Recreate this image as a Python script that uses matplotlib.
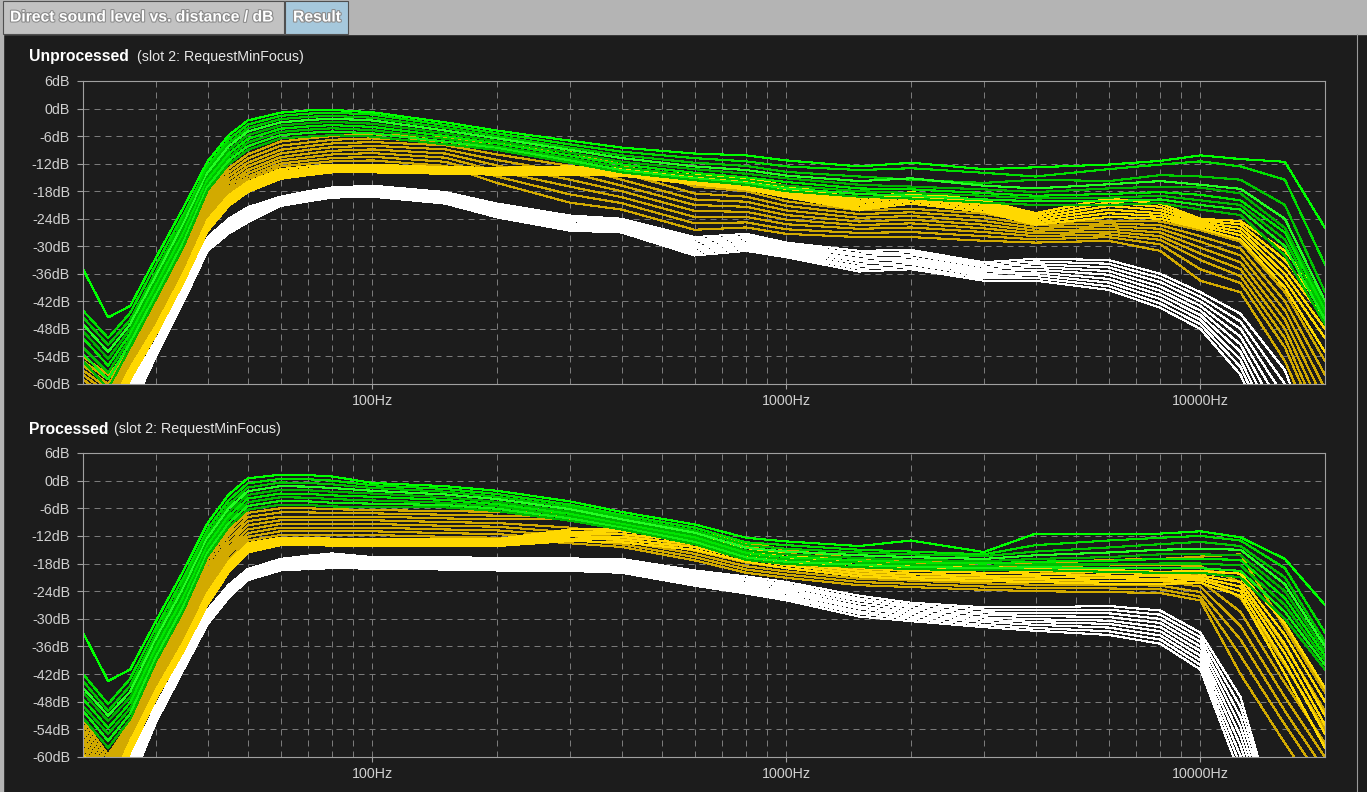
import matplotlib
matplotlib.use('Agg')
import matplotlib.pyplot as plt
from matplotlib.patches import Rectangle
from matplotlib.ticker import FixedLocator, NullFormatter
import matplotlib.patheffects as pe

plt.rcParams['font.family'] = ['Liberation Sans', 'DejaVu Sans']

# frequency points (Hz) shared by every response curve
freqs = [20, 23, 26, 30, 35, 40, 45, 50, 60, 70, 80, 100, 150, 200, 300, 400, 600, 800,
         1000, 1500, 2000, 3000, 4000, 6000, 8000, 10000, 12500, 16000, 20000]

# ---- unprocessed: levels in dB ----
unproc_green = [
    [-35, -45.5, -43, -32.5, -21.5, -11.5, -5.8, -2.6, -0.9, -0.4, -0.3, -0.8, -3.0, -4.8, -7.0, -8.5, -9.8, -10.2, -11.3, -12.6, -11.8, -13.2, -12.8, -12.2, -11.4, -10.2, -11.0, -11.6, -26.0],
    [-44, -50, -44.5, -34, -23, -12.5, -6.7, -3.5, -1.6, -1.1, -0.9, -1.3, -3.6, -5.4, -7.8, -9.4, -10.8, -11.5, -12.6, -13.4, -13.0, -14.0, -14.8, -13.2, -12.2, -11.5, -12.6, -15.5, -34.0],
    [-45.5, -51.5, -46, -35.5, -24, -13.3, -7.5, -4.3, -2.3, -1.8, -1.6, -2.0, -4.2, -6.0, -8.5, -10.2, -11.8, -12.5, -13.8, -14.8, -15.5, -16.2, -15.5, -15.8, -14.5, -14.8, -15.5, -21.0, -40.0],
    [-47, -53, -47, -36.5, -25, -14, -8.2, -5.0, -3.0, -2.5, -2.2, -2.6, -4.8, -6.5, -9.0, -10.8, -12.6, -13.4, -14.6, -15.8, -15.2, -16.8, -17.4, -16.5, -15.8, -16.6, -17.5, -24.0, -42.0],
    [-48.5, -54.5, -48, -37.5, -26, -14.8, -9.0, -5.8, -3.7, -3.2, -2.9, -3.3, -5.4, -7.1, -9.6, -11.6, -13.2, -14.2, -15.2, -16.6, -17.0, -17.6, -18.2, -17.4, -17.0, -17.2, -18.5, -26.0, -43.0],
    [-50, -56, -49, -38.5, -27, -15.5, -9.8, -6.6, -4.4, -3.9, -3.6, -4.0, -6.0, -7.6, -10.2, -12.2, -14.0, -15.0, -16.0, -17.4, -17.6, -18.4, -19.0, -18.6, -18.2, -18.8, -20.0, -27.0, -44.0],
    [-52, -57.5, -50, -39.5, -28, -16.3, -10.6, -7.4, -5.1, -4.6, -4.3, -4.7, -6.6, -8.2, -10.8, -12.8, -14.6, -15.6, -16.8, -18.0, -18.4, -19.0, -19.6, -19.4, -19.0, -20.0, -21.0, -28.5, -45.0],
    [-53.5, -59, -51, -40.5, -29, -17, -11.3, -8.2, -5.8, -5.3, -5.0, -5.4, -7.2, -8.6, -11.3, -13.4, -15.2, -16.2, -17.4, -18.6, -19.0, -19.8, -20.2, -20.2, -19.8, -21.0, -22.0, -30.0, -46.0],
    [-55, -61, -52, -41.5, -30, -17.8, -12.1, -9.0, -6.5, -6.1, -5.8, -6.1, -7.8, -9.0, -11.8, -13.9, -15.6, -16.6, -18.0, -19.2, -19.6, -20.5, -21.0, -21.0, -20.6, -22.0, -23.2, -32.0, -47.0],
]
unproc_gold_bright = [
    [-60.5, -66, -56.5, -47.3, -35.8, -24.2, -18.9, -16.0, -13.2, -12.6, -12.2, -12.2, -12.8, -12.9, -12.6, -13.0, -14.5, -15.1, -16.8, -19.6, -18.2, -20.0, -22.8, -19.6, -20.7, -24.0, -24.5, -31, -42],
    [-61, -67, -57, -47.7, -36.2, -24.7, -19.4, -16.5, -13.7, -13.1, -12.6, -12.6, -13.1, -13.2, -12.9, -13.3, -14.9, -15.6, -17.3, -20.1, -18.7, -20.5, -23.3, -20.4, -21.4, -24.4, -25.2, -33, -44],
    [-62, -68, -57.5, -48.1, -36.6, -25.2, -19.9, -17.0, -14.1, -13.5, -13.0, -13.0, -13.4, -13.5, -13.3, -13.6, -15.3, -16.1, -17.8, -20.6, -19.2, -21.0, -23.8, -21.2, -22.1, -24.8, -26.0, -34.5, -46],
    [-63, -69, -58, -48.5, -37.0, -25.7, -20.3, -17.4, -14.5, -13.9, -13.3, -13.3, -13.6, -13.8, -13.7, -14.0, -15.7, -16.6, -18.3, -21.1, -19.7, -21.5, -24.3, -22.0, -22.8, -25.2, -26.8, -36, -48],
    [-64, -70, -58.5, -48.9, -37.4, -26.2, -20.8, -17.8, -14.9, -14.2, -13.6, -13.6, -13.9, -14.1, -14.1, -14.3, -16.1, -17.1, -18.8, -21.6, -20.2, -22.0, -24.8, -22.8, -23.4, -25.6, -27.6, -37.5, -50],
    [-65, -71, -59, -49.3, -37.8, -26.7, -21.2, -18.2, -15.3, -14.5, -13.9, -13.9, -14.2, -14.4, -14.5, -14.6, -16.5, -17.6, -19.3, -22.1, -20.7, -22.5, -25.3, -23.6, -24.0, -26.1, -28.5, -39, -53],
]
unproc_gold_dark = [
    [-54, -58, -52.5, -42.3, -30.8, -18.6, -13.0, -10.0, -7.2, -6.5, -6.0, -5.6, -6.3, -7.6, -9.5, -12.2, -17.0, -18.0, -20.2, -22.2, -21.8, -22.9, -24.8, -24.4, -24.6, -26.5, -29.0, -40, -55],
    [-55, -59, -53, -43.0, -31.5, -19.4, -13.9, -10.9, -8.1, -7.4, -6.8, -6.5, -7.2, -8.8, -11.0, -14.0, -18.5, -19.2, -21.2, -23.0, -22.6, -23.7, -25.4, -25.0, -25.4, -27.8, -30.5, -42, -58],
    [-56, -60, -53.5, -43.7, -32.2, -20.2, -14.7, -11.8, -9.0, -8.2, -7.6, -7.3, -8.0, -10.0, -12.5, -15.5, -19.8, -20.3, -22.2, -23.8, -23.4, -24.5, -26.0, -25.6, -26.2, -29.0, -32.0, -44, -61],
    [-57, -61, -54, -44.4, -32.9, -21.0, -15.5, -12.6, -9.8, -9.0, -8.4, -8.1, -8.9, -11.2, -14.0, -16.8, -21.0, -21.4, -23.2, -24.6, -24.2, -25.3, -26.6, -26.2, -27.0, -30.3, -33.5, -46, -64],
    [-58, -62, -54.5, -45.0, -33.5, -21.7, -16.3, -13.4, -10.6, -9.8, -9.2, -8.9, -9.8, -12.4, -15.5, -18.0, -22.3, -22.5, -24.2, -25.4, -25.0, -26.1, -27.2, -26.8, -27.8, -31.6, -35.0, -48, -67],
    [-59, -63, -55, -45.6, -34.1, -22.4, -17.0, -14.1, -11.3, -10.6, -10.0, -9.7, -10.7, -13.6, -17.0, -19.3, -23.6, -23.6, -25.2, -26.2, -25.9, -26.9, -27.8, -27.4, -28.6, -33.0, -36.5, -50, -70],
    [-60, -64, -55.5, -46.2, -34.7, -23.0, -17.7, -14.8, -12.0, -11.3, -10.8, -10.5, -11.6, -14.8, -18.7, -20.6, -25.0, -24.8, -26.3, -27.1, -26.9, -27.8, -28.5, -28.0, -29.6, -35.0, -38.0, -52, -72],
    [-61, -65, -56, -46.8, -35.3, -23.6, -18.3, -15.4, -12.6, -12.0, -11.5, -11.3, -12.5, -16.2, -20.5, -22.0, -26.4, -25.9, -27.3, -28.0, -28.0, -28.8, -29.2, -28.8, -31.0, -37.5, -40.0, -55, -75],
]
unproc_white = [
    [-80, -70, -60, -50.5, -38.8, -28, -24.0, -21.5, -19.2, -18.0, -17.2, -16.8, -18.2, -20.7, -23.3, -24.0, -28.0, -27.3, -29.2, -31.0, -30.8, -33.5, -32.7, -33.0, -36.0, -40.0, -44.7, -57, -80],
    [-81, -70.9, -60.8, -50.9, -39.2, -28.4, -24.4, -21.9, -19.4, -18.3, -17.5, -17.1, -18.5, -21.1, -23.7, -24.4, -28.5, -27.8, -29.6, -31.6, -31.3, -34.0, -33.3, -33.8, -36.9, -41.0, -46.4, -60, -81],
    [-82, -71.8, -61.5, -51.4, -39.6, -28.8, -24.8, -22.3, -19.7, -18.6, -17.8, -17.4, -18.8, -21.4, -24.1, -24.8, -29.0, -28.2, -30.0, -32.1, -31.8, -34.5, -33.9, -34.6, -37.8, -42.0, -48.0, -63, -82],
    [-83, -72.6, -62.2, -51.8, -40.0, -29.1, -25.2, -22.7, -19.9, -18.8, -18.0, -17.7, -19.1, -21.8, -24.5, -25.1, -29.5, -28.7, -30.4, -32.7, -32.4, -35.0, -34.5, -35.4, -38.8, -43.0, -49.7, -66, -84],
    [-84, -73.5, -63, -52.2, -40.4, -29.5, -25.6, -23.1, -20.2, -19.1, -18.3, -18.0, -19.4, -22.2, -25.0, -25.5, -30.0, -29.2, -30.8, -33.2, -32.9, -35.5, -35.1, -36.2, -39.7, -44.0, -51.4, -69, -85],
    [-85, -74.4, -63.8, -52.7, -40.8, -29.9, -26.0, -23.5, -20.4, -19.4, -18.6, -18.3, -19.8, -22.6, -25.4, -25.9, -30.5, -29.6, -31.2, -33.8, -33.4, -36.0, -35.7, -37.1, -40.6, -45.0, -53.0, -72, -86],
    [-86, -75.2, -64.5, -53.1, -41.2, -30.2, -26.4, -24.0, -20.7, -19.6, -18.8, -18.6, -20.1, -23.0, -25.8, -26.2, -31.0, -30.1, -31.6, -34.4, -33.9, -36.5, -36.3, -37.9, -41.5, -46.0, -54.7, -75, -87],
    [-87, -76.1, -65.2, -53.6, -41.6, -30.6, -26.8, -24.4, -20.9, -19.9, -19.1, -18.9, -20.4, -23.3, -26.2, -26.6, -31.5, -30.5, -32.0, -34.9, -34.5, -37.0, -36.9, -38.7, -42.5, -47.0, -56.3, -77, -89],
    [-88, -77, -66, -54, -42, -31, -27.2, -24.8, -21.2, -20.2, -19.4, -19.2, -20.7, -23.7, -26.6, -27.0, -32.0, -31.0, -32.4, -35.5, -35.0, -37.5, -37.5, -39.5, -43.4, -48.0, -58.0, -80, -90],
]

# ---- processed: levels in dB ----
proc_green = [
    [-33, -43.5, -41, -30.5, -19.5, -9.2, -3.0, 0.5, 1.3, 1.2, 0.9, -0.5, -1.2, -2.2, -4.5, -6.8, -9.5, -12.4, -13.2, -14.2, -13.0, -15.5, -11.5, -11.5, -11.5, -11.0, -12.3, -17.0, -27.0],
    [-42, -48.5, -43, -32, -21, -10.5, -4.2, -0.6, 0.4, 0.3, 0.0, -1.0, -1.8, -2.9, -5.2, -7.4, -10.2, -13.4, -14.0, -15.0, -15.4, -16.0, -14.0, -13.0, -12.4, -12.0, -13.0, -19.0, -33.0],
    [-43.5, -50, -44.5, -33.2, -22.2, -11.5, -5.2, -1.5, -0.4, -0.5, -0.8, -1.6, -2.4, -3.5, -5.7, -7.9, -10.8, -14.0, -14.8, -15.6, -16.0, -16.4, -15.4, -14.5, -13.8, -13.3, -14.2, -21.0, -35.0],
    [-45, -51, -45.8, -34.3, -23.2, -12.4, -6.0, -2.3, -1.2, -1.3, -1.6, -2.2, -3.0, -4.0, -6.2, -8.4, -11.3, -14.6, -15.4, -16.2, -16.6, -17.0, -16.2, -15.6, -15.0, -14.8, -15.0, -22.5, -36.0],
    [-46, -52.2, -47, -35.3, -24.2, -13.2, -6.8, -3.1, -2.0, -2.1, -2.4, -2.8, -3.6, -4.6, -6.7, -8.9, -11.8, -15.2, -16.0, -16.8, -17.2, -17.5, -17.0, -16.6, -16.0, -16.0, -16.2, -24.0, -37.0],
    [-47.4, -53.7, -48.2, -36.3, -25.2, -14, -7.6, -3.9, -2.8, -2.9, -3.2, -3.5, -4.2, -5.1, -7.2, -9.4, -12.3, -15.7, -16.6, -17.3, -17.7, -18.0, -17.6, -17.4, -17.0, -17.0, -17.2, -25.5, -38.0],
    [-48.9, -55, -49.4, -37.3, -26.2, -14.8, -8.4, -4.7, -3.6, -3.7, -4.0, -4.3, -4.8, -5.6, -7.7, -9.8, -12.8, -16.2, -17.1, -17.8, -18.2, -18.5, -18.2, -18.2, -18.0, -18.0, -18.4, -27.0, -39.0],
    [-50, -56.5, -50.6, -38.3, -27.2, -15.6, -9.2, -5.5, -4.4, -4.5, -4.8, -5.0, -5.3, -6.1, -8.2, -10.2, -13.3, -16.7, -17.6, -18.3, -18.7, -19.0, -18.8, -19.0, -19.0, -19.0, -19.6, -28.5, -40.0],
    [-51.5, -58, -51.8, -39.3, -28.2, -16.4, -10.0, -6.3, -5.2, -5.3, -5.6, -5.8, -5.8, -6.6, -8.7, -10.6, -13.8, -17.2, -18.1, -18.8, -19.2, -19.5, -19.4, -19.8, -20.0, -20.0, -21.0, -30.0, -41.0],
]
proc_gold_bright = [
    [-59.5, -67, -56.5, -45.4, -35.0, -24.3, -17.6, -13.6, -12.4, -12.4, -12.6, -12.6, -12.6, -12.7, -10.6, -10.4, -12.0, -14.6, -16.0, -17.8, -18.4, -18.8, -19.0, -19.4, -19.8, -19.6, -20.2, -31, -45],
    [-60.5, -68, -57, -45.8, -35.4, -24.8, -18.1, -14.0, -12.8, -12.8, -12.9, -12.9, -12.9, -13.0, -11.1, -11.0, -12.6, -15.2, -16.6, -18.4, -19.0, -19.4, -19.6, -20.0, -20.3, -20.1, -21.0, -33.5, -48],
    [-61.5, -69, -57.5, -46.2, -35.8, -25.3, -18.5, -14.4, -13.1, -13.1, -13.2, -13.2, -13.2, -13.3, -11.6, -11.6, -13.2, -15.8, -17.2, -19.0, -19.6, -20.0, -20.2, -20.6, -20.8, -20.6, -22.0, -35.5, -51],
    [-62.5, -70, -58, -46.6, -36.2, -25.8, -19.0, -14.8, -13.4, -13.4, -13.5, -13.5, -13.5, -13.6, -12.1, -12.2, -13.8, -16.4, -17.8, -19.6, -20.2, -20.6, -20.8, -21.2, -21.3, -21.1, -23.0, -37.5, -53],
    [-63.5, -71, -58.5, -47.0, -36.6, -26.3, -19.4, -15.2, -13.7, -13.7, -13.8, -13.8, -13.8, -13.9, -12.6, -12.8, -14.4, -17.0, -18.4, -20.2, -20.8, -21.2, -21.4, -21.8, -21.8, -21.6, -24.0, -39.5, -55],
    [-64.5, -72, -59, -47.4, -37.0, -26.8, -19.9, -15.6, -14.0, -14.0, -14.1, -14.1, -14.1, -14.2, -13.1, -13.4, -15.0, -17.6, -19.0, -20.8, -21.4, -21.8, -22.0, -22.4, -22.4, -22.2, -25.0, -42, -58],
]
proc_gold_dark = [
    [-52, -59.5, -52.5, -40.0, -29.0, -17.2, -10.8, -7.0, -6.0, -6.0, -6.2, -6.4, -6.6, -6.8, -6.8, -8.6, -11.0, -13.5, -15.0, -17.0, -17.4, -17.8, -18.0, -17.2, -17.0, -16.5, -16.0, -32, -46],
    [-53, -60.5, -53, -40.7, -29.8, -18.2, -11.7, -7.9, -6.9, -6.9, -7.0, -7.1, -7.4, -7.6, -7.6, -9.2, -11.8, -14.3, -15.8, -17.6, -18.0, -18.5, -18.8, -18.2, -18.2, -18.6, -22.0, -36, -50],
    [-54, -61.5, -53.5, -41.4, -30.6, -19.2, -12.7, -8.8, -7.8, -7.8, -7.8, -7.8, -8.2, -8.4, -8.4, -10.6, -13.6, -16.2, -17.4, -19.2, -19.6, -20.0, -20.2, -19.8, -19.8, -20.4, -25.5, -40, -54],
    [-55, -62.5, -54, -42.1, -31.4, -20.2, -13.6, -9.7, -8.6, -8.6, -8.6, -8.6, -9.0, -9.2, -10.2, -11.6, -14.4, -17.0, -18.2, -19.9, -20.3, -20.8, -21.0, -20.8, -20.8, -21.8, -28.5, -44, -57],
    [-56, -63.5, -54.5, -42.8, -32.2, -21.1, -14.5, -10.6, -9.4, -9.4, -9.4, -9.4, -9.8, -10.0, -11.2, -12.4, -15.2, -17.8, -19.0, -20.6, -21.0, -21.6, -21.8, -21.8, -21.8, -23.0, -31.5, -47, -60],
    [-57, -64.5, -55, -43.5, -33.0, -22.0, -15.4, -11.4, -10.2, -10.2, -10.2, -10.2, -10.6, -10.8, -12.0, -13.1, -15.9, -18.6, -19.7, -21.3, -21.7, -22.3, -22.6, -22.6, -22.8, -24.2, -34.5, -50, -63],
    [-58, -65.5, -55.5, -44.2, -33.7, -22.9, -16.2, -12.2, -11.0, -11.0, -11.0, -11.0, -11.4, -11.6, -12.8, -13.8, -16.6, -19.3, -20.4, -22.0, -22.4, -23.0, -23.3, -23.4, -23.6, -25.2, -38.0, -53, -66],
    [-59, -66.5, -56, -44.9, -34.4, -23.7, -17.0, -13.0, -11.8, -11.8, -11.8, -11.8, -12.2, -12.4, -13.6, -14.4, -17.3, -20.0, -21.1, -22.7, -23.1, -23.7, -24.0, -24.2, -24.4, -26.0, -42.0, -57, -70],
]
proc_white = [
    [-80, -70, -60, -48.8, -37.8, -28.0, -22.6, -19.2, -17.0, -16.3, -15.8, -16.6, -16.6, -16.8, -16.9, -17.0, -19.5, -20.8, -22.0, -25.0, -26.5, -27.5, -27.5, -27.2, -28.2, -33, -47.0, -80, -90],
    [-81, -70.9, -60.8, -49.3, -38.2, -28.4, -23.0, -19.5, -17.3, -16.7, -16.2, -16.9, -16.9, -17.1, -17.2, -17.4, -19.9, -21.3, -22.5, -25.6, -27.0, -28.0, -28.1, -28.0, -29.1, -34, -49.1, -81, -91],
    [-82, -71.8, -61.5, -49.7, -38.6, -28.8, -23.3, -19.8, -17.6, -17.0, -16.6, -17.2, -17.3, -17.5, -17.6, -17.8, -20.3, -21.7, -23.0, -26.1, -27.5, -28.6, -28.8, -28.8, -30.0, -35, -51.3, -82, -91],
    [-83, -72.6, -62.2, -50.2, -39.0, -29.2, -23.7, -20.1, -17.9, -17.4, -17.0, -17.5, -17.6, -17.8, -17.9, -18.1, -20.7, -22.2, -23.5, -26.7, -28.0, -29.1, -29.4, -29.6, -30.9, -36, -53.4, -84, -92],
    [-84, -73.5, -63, -50.7, -39.4, -29.6, -24.0, -20.4, -18.3, -17.8, -17.4, -17.9, -18.0, -18.2, -18.3, -18.5, -21.2, -22.7, -24.0, -27.3, -28.5, -29.7, -30.1, -30.4, -31.8, -37, -55.5, -85, -92],
    [-85, -74.4, -63.8, -51.1, -39.8, -30.0, -24.4, -20.7, -18.6, -18.2, -17.8, -18.2, -18.3, -18.5, -18.6, -18.9, -21.6, -23.1, -24.5, -27.8, -29.0, -30.2, -30.7, -31.1, -32.7, -38, -57.6, -86, -93],
    [-86, -75.2, -64.5, -51.6, -40.2, -30.4, -24.7, -21.0, -18.9, -18.5, -18.2, -18.5, -18.6, -18.8, -18.9, -19.3, -22.0, -23.6, -25.0, -28.4, -29.5, -30.7, -31.3, -31.9, -33.6, -39, -59.8, -87, -94],
    [-87, -76.1, -65.2, -52.0, -40.6, -30.8, -25.1, -21.3, -19.2, -18.9, -18.6, -18.8, -19.0, -19.2, -19.3, -19.6, -22.4, -24.0, -25.5, -28.9, -30.0, -31.3, -32.0, -32.7, -34.5, -40, -61.9, -89, -94],
    [-88, -77, -66, -52.5, -41.0, -31.2, -25.4, -21.6, -19.5, -19.2, -19.0, -19.1, -19.3, -19.5, -19.6, -20.0, -22.8, -24.5, -26.0, -29.5, -30.5, -31.8, -32.6, -33.5, -35.4, -41, -64.0, -90, -95],
]

green_shades = ['#00ff00', '#00e000', '#00c800', '#22ff22', '#00b400',
                '#00e600', '#00c000', '#10f010', '#00b800']
BG = '#1c1c1c'
W, H = 1367, 792

fig = plt.figure(figsize=(W / 100, H / 100), dpi=100, facecolor=BG)

# window frame, tabs and panel titles, laid out in pixels
frame = fig.add_axes([0, 0, 1, 1], zorder=0)
frame.set_xlim(0, W)
frame.set_ylim(H, 0)
frame.axis('off')
frame.add_patch(Rectangle((0, 0), W, 34, color='#b4b4b4'))
frame.add_patch(Rectangle((0, 0), 3, H, color='#b4b4b4'))
frame.add_patch(Rectangle((3, 1), 281, 33, facecolor='#c2c2c2', edgecolor='#505050', lw=0.8))
frame.add_patch(Rectangle((285, 1), 63, 33, facecolor='#a6c8dc', edgecolor='#505050', lw=0.8))
frame.plot([1357, 1357], [34, H], color='#9a9a9a', lw=0.8)
shadow = [pe.withStroke(linewidth=1.6, foreground='#8c8c8c')]
frame.text(10, 17, 'Direct sound level vs. distance / dB', color='white', fontsize=11.3,
           fontweight='bold', va='center', path_effects=shadow)
frame.text(293, 17, 'Result', color='white', fontsize=11.3, fontweight='bold',
           va='center', path_effects=shadow)

frame.text(29, 57, 'Unprocessed', color='white', fontsize=11.3, fontweight='bold', va='center')
frame.text(137, 57, '(slot 2: RequestMinFocus)', color='#e6e6e6', fontsize=10.3, va='center')
frame.text(29, 429, 'Processed', color='white', fontsize=11.3, fontweight='bold', va='center')
frame.text(114, 429, '(slot 2: RequestMinFocus)', color='#e6e6e6', fontsize=10.3, va='center')

minor_grid = [m * d for d in (10, 100, 1000) for m in range(2, 10)]


def draw_panel(ax, white, dark, bright, green):
    ax.set_facecolor(BG)
    ax.set_xscale('log')
    for row in white:
        ax.plot(freqs, row, color='white', lw=0.8, antialiased=False)
    for row in dark:
        ax.plot(freqs, row, color='#d2aa00', lw=0.8, antialiased=False)
    for row in bright:
        ax.plot(freqs, row, color='#ffd800', lw=0.8, antialiased=False)
    for row, c in zip(green, green_shades):
        ax.plot(freqs, row, color=c, lw=0.8, antialiased=False)

    ax.set_xlim(20, 20000)
    ax.set_ylim(-60, 6)
    yt = list(range(-60, 7, 6))
    ax.set_yticks(yt)
    ax.set_yticklabels([f'{v}dB' for v in yt])
    ax.set_xticks([100, 1000, 10000])
    ax.set_xticklabels(['100Hz', '1000Hz', '10000Hz'])
    ax.xaxis.set_minor_locator(FixedLocator(minor_grid))
    ax.xaxis.set_minor_formatter(NullFormatter())
    ax.tick_params(which='minor', length=0)
    ax.tick_params(which='major', color='#a0a0a0', labelcolor='#d0d0d0',
                   labelsize=10.3, width=0.8)
    ax.tick_params(axis='y', length=4.3, pad=5)
    ax.tick_params(axis='x', length=3.6, pad=3.5)
    ax.set_axisbelow(True)
    ax.grid(True, which='both', color='#7a7a7a', lw=0.72, ls=(0, (6, 5)))
    for s in ax.spines.values():
        s.set_color('#a0a0a0')
        s.set_linewidth(0.8)


ax_top = fig.add_axes([83 / W, 1 - 384 / H, 1242 / W, 303 / H], zorder=1)
draw_panel(ax_top, unproc_white, unproc_gold_dark, unproc_gold_bright, unproc_green)

ax_bot = fig.add_axes([83 / W, 1 - 757 / H, 1242 / W, 304 / H], zorder=1)
draw_panel(ax_bot, proc_white, proc_gold_dark, proc_gold_bright, proc_green)

fig.savefig('out.png', dpi=100, facecolor=BG)
